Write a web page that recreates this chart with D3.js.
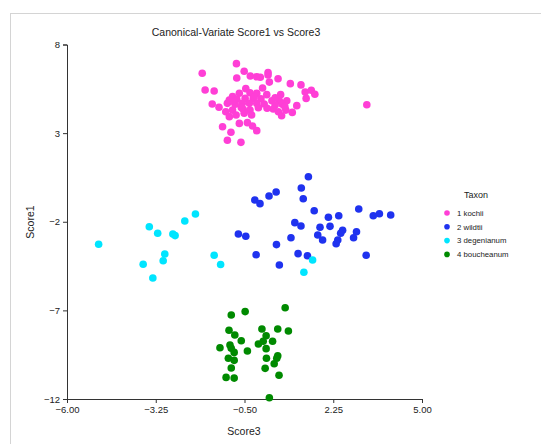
<!DOCTYPE html>
<html>
<head>
<meta charset="utf-8">
<script src="https://cdn.jsdelivr.net/npm/d3@7"></script>
<style>
  html, body { margin: 0; padding: 0; background: #fff; }
  svg { display: block; font-family: "Liberation Sans", Arial, sans-serif; }
</style>
</head>
<body>
<svg id="chart" width="541" height="444"></svg>
<script>
// Canonical-variate scores: [Score3, Score1] per specimen, grouped by taxon
const kochii = [
  [-0.75,6.92],[-1.81,6.38],[-0.51,6.49],[-0.74,6.11],[-0.32,6.22],[-0.12,6.18],[-0.01,6.15],
  [0.23,6.42],[0.23,6.28],[0.54,6.07],[0.27,5.88],[0.92,5.79],[1.25,5.72],[-1.72,5.43],
  [-1.44,5.38],[1.38,5.32],[1.57,5.42],[1.68,5.19],[1.41,4.96],[3.29,4.60],[-1.50,4.64],
  [-1.29,4.46],[-0.46,5.51],[0.06,5.55],[-0.66,5.25],[-0.87,5.06],[-0.33,5.28],[-0.12,5.25],
  [0.19,5.17],[0.62,5.17],[-0.97,4.87],[-0.74,4.91],[-0.48,4.96],[-0.23,4.96],[0.01,4.94],
  [0.35,4.83],[0.58,4.83],[0.81,4.83],[-1.03,4.68],[-0.79,4.63],[-0.57,4.68],[-0.35,4.68],
  [-0.12,4.68],[0.11,4.64],[0.45,4.59],[0.67,4.63],[1.12,4.55],[-1.08,4.21],[-0.87,4.30],
  [-0.54,4.34],[-0.33,4.30],[-0.07,4.43],[0.39,4.36],[0.55,4.21],[0.78,4.30],[0.98,4.17],
  [-0.97,3.93],[-0.76,4.02],[-0.51,4.12],[-0.28,4.02],[0.65,3.98],[-0.66,3.55],[-0.41,3.59],
  [-1.18,3.36],[-0.25,3.40],[-0.12,3.14],[-0.92,3.05],[-1.03,2.60],[-0.61,2.48],
  [-0.20,5.05],[0.45,5.00],[-0.60,4.45],[0.20,4.40],[-0.85,4.80],[0.75,4.50]
];
const wildtii = [
  [1.48,0.54],[1.26,-0.10],[1.32,-0.70],[-0.18,-0.77],[-0.02,-0.98],[0.26,-0.55],[0.48,-0.32],
  [1.66,-1.38],[2.10,-1.75],[2.42,-1.66],[3.04,-1.28],[3.49,-1.66],[3.68,-1.55],[4.03,-1.62],
  [1.06,-2.05],[1.25,-2.24],[1.84,-2.31],[2.15,-2.26],[2.54,-2.48],[2.48,-2.65],[2.97,-2.56],
  [2.88,-2.90],[1.77,-2.75],[1.92,-3.03],[2.39,-3.03],[2.34,-3.24],[-0.69,-2.69],[-0.46,-2.82],
  [0.94,-2.90],[0.49,-3.29],[-0.14,-3.86],[1.16,-3.80],[1.45,-3.92],[0.58,-4.44],[3.27,-3.89]
];
const degenianum = [
  [-5.02,-3.27],[-3.45,-2.28],[-3.19,-2.65],[-2.72,-2.69],[-2.65,-2.78],[-2.35,-1.96],
  [-2.02,-1.56],[-2.97,-3.82],[-3.02,-4.20],[-3.64,-4.40],[-3.34,-5.17],[-1.44,-3.89],
  [-1.24,-4.41],[1.61,-4.16],[1.34,-4.85]
];
const boucheanum = [
  [-0.91,-7.26],[-0.48,-7.07],[0.76,-6.85],[-0.98,-8.12],[-0.80,-8.39],[-0.60,-8.71],
  [0.04,-8.05],[0.53,-8.05],[0.86,-8.16],[0.17,-8.43],[0.08,-8.74],[-0.07,-8.90],[0.37,-8.74],
  [-1.26,-9.11],[-0.95,-8.95],[-0.91,-9.14],[-0.82,-9.37],[-0.41,-9.29],[0.17,-9.16],
  [-1.00,-9.70],[-0.82,-9.82],[0.18,-9.70],[0.53,-9.56],[0.50,-9.70],[0.42,-10.01],
  [-0.91,-10.25],[0.14,-10.27],[-1.07,-10.78],[-0.82,-10.82],[0.57,-10.66],[0.27,-11.93]
];

const taxa = ["1 kochii", "2 wildtii", "3 degenianum", "4 boucheanum"];
const taxonColors = ["#ff3fd6", "#1f32ef", "#00e5ff", "#008a00"];
const taxonData = [kochii, wildtii, degenianum, boucheanum];

const xTicks = [-6.00, -3.25, -0.50, 2.25, 5.00];
const yTicks = [8, 3, -2, -7, -12];

const titleText = "Canonical-Variate Score1 vs Score3";
const xTitle = "Score3";
const yTitle = "Score1";
const legendTitle = "Taxon";

const svg = d3.select("#chart");

// panel border
svg.append("rect")
  .attr("x", 10.5).attr("y", 13.5)
  .attr("width", 700).attr("height", 700)
  .attr("fill", "none").attr("stroke", "#d4d4d4");

const x = d3.scaleLinear().domain([-6, 5]).range([67, 422]);
const y = d3.scaleLinear().domain([-12, 8]).range([399, 44.5]);

const xAxis = svg.append("g")
  .attr("transform", `translate(0,${y(-12)})`)
  .call(d3.axisBottom(x).tickValues(xTicks).tickFormat(d3.format(".2f")).tickSizeOuter(0).tickSize(4));
const yAxis = svg.append("g")
  .attr("transform", `translate(${x(-6)},0)`)
  .call(d3.axisLeft(y).tickValues(yTicks).tickFormat(d3.format("d")).tickSizeOuter(0).tickSize(4));

[xAxis, yAxis].forEach(g => {
  g.select(".domain").attr("stroke", "#333");
  g.selectAll(".tick line").attr("stroke", "#333");
  g.selectAll(".tick text").attr("fill", "#222")
    .style("font-family", "'Liberation Sans', Arial, sans-serif")
    .style("font-size", "9.5px");
});
xAxis.selectAll(".tick text").attr("dy", "0.71em").attr("y", 7);
yAxis.selectAll(".tick text").attr("x", -7);

// titles
svg.append("text")
  .attr("x", 236).attr("y", 35.5)
  .attr("text-anchor", "middle")
  .attr("font-size", "10.5px").attr("fill", "#222")
  .text(titleText);
svg.append("text")
  .attr("x", 244).attr("y", 434.5)
  .attr("text-anchor", "middle")
  .attr("font-size", "10.5px").attr("fill", "#222")
  .text(xTitle);
svg.append("text")
  .attr("transform", "translate(34,222) rotate(-90)")
  .attr("text-anchor", "middle")
  .attr("font-size", "10.5px").attr("fill", "#222")
  .text(yTitle);

// points
taxonData.forEach((pts, i) => {
  svg.append("g")
    .selectAll("circle")
    .data(pts)
    .join("circle")
    .attr("cx", d => x(d[0]))
    .attr("cy", d => y(d[1]))
    .attr("r", 3.8)
    .attr("fill", taxonColors[i]);
});

// legend
const legend = svg.append("g");
legend.append("text")
  .attr("x", 476).attr("y", 198)
  .attr("text-anchor", "middle")
  .attr("font-size", "9px").attr("fill", "#222")
  .text(legendTitle);
const items = legend.selectAll("g.item")
  .data(taxa)
  .join("g")
  .attr("class", "item")
  .attr("transform", (d, i) => `translate(0,${213 + i * 13.8})`);
items.append("circle")
  .attr("cx", 447).attr("cy", 0).attr("r", 2.8)
  .attr("fill", (d, i) => taxonColors[i]);
items.append("text")
  .attr("x", 457).attr("y", 2.8)
  .attr("font-size", "7.8px").attr("fill", "#222")
  .text(d => d);
</script>
</body>
</html>
